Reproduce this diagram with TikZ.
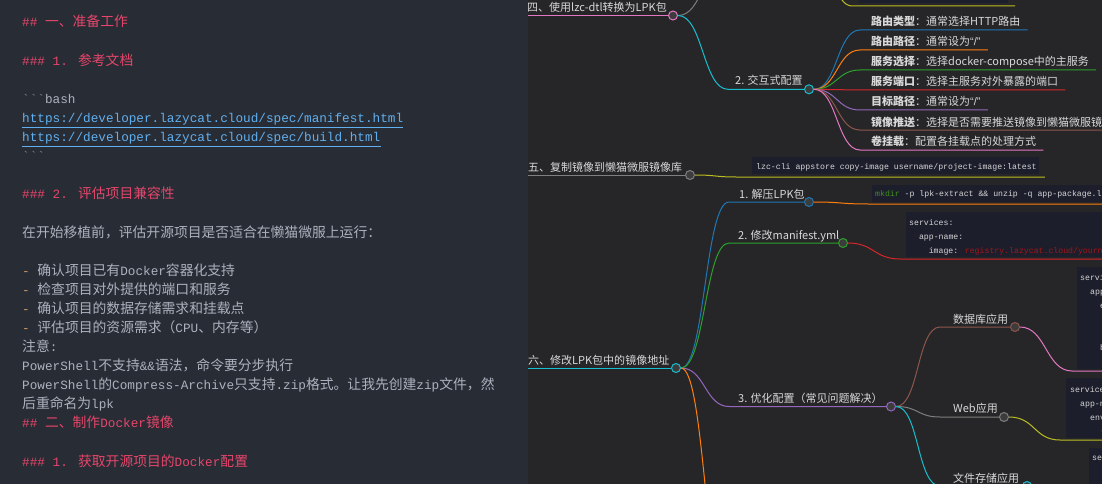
\documentclass[tikz,border=0pt]{standalone}
\usepackage{fontspec}
\usepackage{tikz}
\usetikzlibrary{calc}
\setmainfont{Noto Sans CJK SC}
\newfontfamily\mono[Ligatures=TeXOff]{Liberation Mono}
\newfontfamily\latin{Liberation Sans}
\newfontfamily\zhfont[Scale=1.087]{Noto Sans CJK SC}
\newcommand\zh[1]{{\zhfont #1}}
\definecolor{leftbg}{HTML}{282C34}
\definecolor{rightbg}{HTML}{262628}
\definecolor{mdred}{HTML}{E5466B}
\definecolor{mdgray}{HTML}{ABB2BF}
\definecolor{mddim}{HTML}{7F848E}
\definecolor{mdlink}{HTML}{61AFEF}
\definecolor{mddash}{HTML}{D19A66}
\definecolor{codebg}{HTML}{1D1E2C}
\definecolor{codetxt}{HTML}{D4D4D4}
\definecolor{codered}{HTML}{A31515}
\definecolor{codegreen}{HTML}{3F8F1F}
\definecolor{mmtext}{HTML}{D8D8D8}
\definecolor{dotfill}{HTML}{3C3C3C}
% branch colours
\definecolor{cblue}{HTML}{1F77B4}
\definecolor{corange}{HTML}{FF7F0E}
\definecolor{cgreen}{HTML}{2CA02C}
\definecolor{cred}{HTML}{D62728}
\definecolor{cpurple}{HTML}{9467BD}
\definecolor{cbrown}{HTML}{8C564B}
\definecolor{cpink}{HTML}{E377C2}
\definecolor{cgray}{HTML}{7F7F7F}
\definecolor{colive}{HTML}{BCBD22}
\definecolor{ccyan}{HTML}{17BECF}
\tikzset{
  mdline/.style={anchor=base west, inner sep=0pt, text=mdgray, font=\mono\fontsize{12.7}{15}\selectfont},
  mdhead/.style={mdline, text=mdred},
  mmlabel/.style={anchor=base west, inner sep=0pt, text=mmtext, font=\fontsize{11}{13}\selectfont},
  mmdot/.style={circle, draw=#1, fill=dotfill, line width=1pt, minimum size=9pt, inner sep=0pt},
  branch/.style={draw=#1, line width=1pt},
  codeline/.style={anchor=base west, inner sep=0pt, text=codetxt, font=\mono\fontsize{8.2}{10}\selectfont},
}

\begin{document}
\begin{tikzpicture}[x=1pt, y=-1pt]
  \useasboundingbox (0,0) rectangle (1102,484);
  % editor side
  \fill[leftbg] (0,0) rectangle (528,484);
  \node[mdhead] (h1) at (22,27) {\#\# \zh{一、准备工作}};
  \node[mdhead] (h2) at (22,65.2) {\#\#\# 1. \zh{参考文档}};
  \node[mdline] (fence1) at (22,103.4) {{\color{mddim}```}bash};
  \node[mdline, text=mdlink] (url1) at (22,122.5) {https://developer.lazycat.cloud/spec/manifest.html};
  \node[mdline, text=mdlink] (url2) at (22,141.5) {https://developer.lazycat.cloud/spec/build.html};
  \draw[mdlink, line width=0.9pt] ([yshift=-1.8pt]url1.south west) -- ([yshift=-1.8pt]url1.south east);
  \draw[mdlink, line width=0.9pt] ([yshift=-1.8pt]url2.south west) -- ([yshift=-1.8pt]url2.south east);
  \node[mdline, text=mddim] (fence2) at (22,160.6) {```};
  \node[mdhead] (h3) at (22,198.8) {\#\#\# 2. \zh{评估项目兼容性}};
  \node[mdline] (p1) at (22,237) {\zh{在开始移植前，评估开源项目是否适合在懒猫微服上运行：}};
  \node[mdline] (li1) at (22,275.2) {{\color{mddash}-} \zh{确认项目已有}Docker\zh{容器化支持}};
  \node[mdline] (li2) at (22,294.3) {{\color{mddash}-} \zh{检查项目对外提供的端口和服务}};
  \node[mdline] (li3) at (22,313.4) {{\color{mddash}-} \zh{确认项目的数据存储需求和挂载点}};
  \node[mdline] (li4) at (22,332.4) {{\color{mddash}-} \zh{评估项目的资源需求（}CPU\zh{、内存等）}};
  \node[mdline] (n1) at (22,351.5) {\zh{注意}:};
  \node[mdline] (n2) at (22,370.6) {PowerShell\zh{不支持}\&\&\zh{语法，命令要分步执行}};
  \node[mdline] (n3) at (22,389.7) {PowerShell\zh{的}Compress-Archive\zh{只支持}.zip\zh{格式。让我先创建}zip\zh{文件，然}};
  \node[mdline] (n4) at (22,408.8) {\zh{后重命名为}lpk};
  \node[mdhead] (h4) at (22,427.9) {\#\# \zh{二、制作}Docker\zh{镜像}};
  \node[mdhead] (h5) at (22,466.1) {\#\#\# 1. \zh{获取开源项目的}Docker\zh{配置}};

  % mind map side
  \begin{scope}
  \clip (528,0) rectangle (1102,484);
  \fill[rightbg] (528,0) rectangle (1102,484);
  \fill[codebg] (859,-20) rectangle (1008,3.5);
  \fill[codebg] (752,157) rectangle (1039,174);
  \fill[codebg] (872,185) rectangle (1110,202);
  \fill[codebg] (906,212) rectangle (1110,257);
  \fill[codebg] (1077,267) rectangle (1110,369);
  \fill[codebg] (1066,378) rectangle (1110,438);
  \fill[codebg] (1089,448) rectangle (1110,490);

  % 四
  \coordinate (a4s) at (520,15.5);
  \node[mmdot=cpink] (a4) at (673,15.5) {};
  \node[mmlabel] (t4) at (527,11.5) {四、使用lzc-dtl转换为LPK包};
  \draw[branch=cpink] (a4s) -- (a4);
  \coordinate (a4up) at (728,-38);
  \draw[branch=cgray] (a4.east) .. controls +(25,0) and +(-25,0) .. (a4up);
  \coordinate (b1) at (815,-40);
  \coordinate (b1c) at (852,6);
  \coordinate (b1e) at (1015,6);
  \draw[branch=colive] (b1) .. controls +(18,0) and +(-18,0) .. (b1c) -- (b1e);

  % 2. 交互式配置
  \coordinate (b2s) at (728,89.3);
  \node[mmdot=ccyan] (b2) at (809,89.3) {};
  \node[mmlabel] (tb2) at (735,85) {2. 交互式配置};
  \draw[branch=ccyan] (a4.east) .. controls +(25,0) and +(-25,0) .. (b2s) -- (b2);
  \foreach \ly/\lc/\lk/\lv [count=\i] in {30/cblue/路由类型/通常选择HTTP路由,
      50/corange/路由路径/{通常设为{\latin“/”}}, 70/cgreen/服务选择/选择docker-compose中的主服务,
      90/cred/服务端口/选择主服务对外暴露的端口, 110/cpurple/目标路径/{通常设为{\latin“/”}},
      130/cbrown/镜像推送/选择是否需要推送镜像到懒猫微服镜像, 150/cpink/卷挂载/配置各挂载点的处理方式} {
    \coordinate (f\i) at (860,\ly);
    \node[mmlabel] (tf\i) at (871,\ly-4) {\textbf{\lk}：\lv};
    \draw[branch=\lc] (b2.east) .. controls +(23,0) and +(-23,0) .. (f\i) -- ($(f\i -| tf\i.east)+(7,0)$);
  }

  % 五
  \coordinate (a5s) at (520,175);
  \node[mmdot=cgray] (a5) at (690,175) {};
  \node[mmlabel] (t5) at (528,171) {五、复制镜像到懒猫微服镜像库};
  \draw[branch=cgray] (a5s) -- (a5);
  \node[codeline] (cmd1) at (756,169.5) {lzc-cli appstore copy-image username/project-image:latest};
  \coordinate (a5c) at (736,177);
  \draw[branch=colive] (a5.east) .. controls +(21,0) and +(-21,0) .. (a5c) -- ($(a5c -| cmd1.east)+(8,0)$);

  % 六
  \coordinate (a6s) at (520,368);
  \node[mmdot=ccyan] (a6) at (676,368) {};
  \node[mmlabel] (t6) at (528,364) {六、修改LPK包中的镜像地址};
  \draw[branch=ccyan] (a6s) -- (a6);

  % 1. 解压LPK包
  \coordinate (c1s) at (729,202);
  \node[mmdot=cblue] (c1) at (809,202) {};
  \node[mmlabel] (tc1) at (739,198) {1. 解压LPK包};
  \draw[branch=cblue] (a6.east) .. controls +(24,0) and +(-24,0) .. (c1s) -- (c1);
  \node[codeline] (cmd2) at (875,196.5) {{\color{codegreen}mkdir} -p lpk-extract \&\& unzip -q app-package.lp};
  \coordinate (c1c) at (868,204);
  \draw[branch=corange] (c1.east) .. controls +(28,0) and +(-28,0) .. (c1c) -- ($(c1c -| cmd2.east)+(8,0)$);

  % 2. 修改manifest.yml
  \coordinate (c2s) at (729,243);
  \node[mmdot=cgreen] (c2) at (843,243) {};
  \node[mmlabel] (tc2) at (738,239) {2. 修改manifest.yml};
  \draw[branch=cgreen] (a6.east) .. controls +(24,0) and +(-24,0) .. (c2s) -- (c2);
  \node[codeline] (yml1) at (909,225) {services:};
  \node[codeline] (yml2) at (918.8,239) {app-name:};
  \node[codeline] (yml3) at (928.6,253) {image: {\color{codered}registry.lazycat.cloud/yourname}};
  \coordinate (c2c) at (900,259);
  \draw[branch=cred] (c2.east) .. controls +(26,0) and +(-26,0) .. (c2c) -- ($(c2c -| yml3.east)+(8,0)$);

  % 3. 优化配置
  \coordinate (c3s) at (729,406.5);
  \node[mmdot=cpurple] (c3) at (891,406.5) {};
  \node[mmlabel] (tc3) at (738,402.5) {3. 优化配置（常见问题解决）};
  \draw[branch=cpurple] (a6.east) .. controls +(24,0) and +(-24,0) .. (c3s) -- (c3);
  \coordinate (c4s) at (729,600);
  \draw[branch=corange] (a6.east) .. controls +(24,0) and +(-24,0) .. (c4s);

  % 数据库应用
  \coordinate (d1s) at (940,327);
  \node[mmdot=cbrown] (d1) at (1015,327) {};
  \node[mmlabel] (td1) at (953,323) {数据库应用};
  \draw[branch=cbrown] (c3.east) .. controls +(23,0) and +(-23,0) .. (d1s) -- (d1);
  \node[codeline] (db1) at (1080,280) {services:};
  \node[codeline] (db2) at (1090,294) {app-name:};
  \node[codeline] (db3) at (1100,308) {environment:};
  \node[codeline] (db4) at (1100,350) {binds:};
  \coordinate (d1c) at (1072,371);
  \coordinate (d1e) at (1110,371);
  \draw[branch=cpink] (d1.east) .. controls +(26,0) and +(-26,0) .. (d1c) -- (d1e);

  % Web应用
  \coordinate (d2s) at (940,417);
  \node[mmdot=cgray] (d2) at (1004,417) {};
  \node[mmlabel] (td2) at (953,412.5) {Web应用};
  \draw[branch=cgray] (c3.east) .. controls +(23,0) and +(-23,0) .. (d2s) -- (d2);
  \node[codeline] (web1) at (1070,392) {services:};
  \node[codeline] (web2) at (1080,406) {app-name:};
  \node[codeline] (web3) at (1090,420) {environment:};
  \node[codeline, text=codegreen] (web4) at (1100,433) {-};
  \coordinate (d2c) at (1060,440);
  \coordinate (d2e) at (1110,440);
  \draw[branch=colive] (d2.east) .. controls +(26,0) and +(-26,0) .. (d2c) -- (d2e);

  % 文件存储应用
  \coordinate (d3s) at (940,486);
  \node[mmdot=ccyan] (d3) at (1027,486) {};
  \node[mmlabel] (td3) at (953,482) {文件存储应用};
  \draw[branch=ccyan] (c3.east) .. controls +(23,0) and +(-23,0) .. (d3s) -- (d3);
  \node[codeline] (fs1) at (1092,460) {services:};
  \end{scope}
\end{tikzpicture}
\end{document}
